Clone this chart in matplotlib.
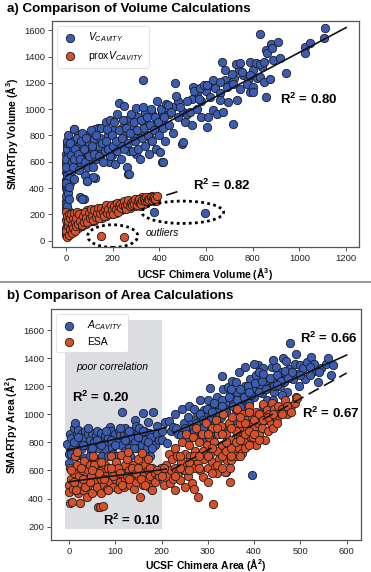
import matplotlib
matplotlib.use('Agg')
import matplotlib.pyplot as plt
from matplotlib.patches import Ellipse, Rectangle
from matplotlib.lines import Line2D

plt.rcParams['font.family'] = ['Liberation Sans', 'DejaVu Sans']
plt.rcParams['mathtext.fontset'] = 'custom'
plt.rcParams['mathtext.rm'] = 'Liberation Sans'
plt.rcParams['mathtext.it'] = 'Liberation Sans:italic'
plt.rcParams['mathtext.bf'] = 'Liberation Sans:bold'

BLUE = '#3a5cb2'
ORANGE = '#d8502a'
EDGE = '#1c1c1c'

# ---------- a) volume data (Chimera, SMARTpy) ----------
vc_pts = [
    (0, 300), (3, 330), (6, 360), (1, 400), (8, 430), (2, 460), (10, 490), (0, 520), (5, 550),
    (12, 580), (3, 610), (9, 640), (0, 660), (14, 690), (6, 720), (2, 250), (8, 230), (15, 560),
    (4, 470), (10, 620), (18, 700), (5, 380), (20, 520), (0, 590), (7, 680), (16, 440), (3, 510),
    (0, 340), (2, 420), (4, 500), (6, 570), (8, 600), (10, 650), (12, 540), (14, 480), (0, 440),
    (0, 560), (3, 700), (6, 740), (1, 620), (9, 360), (11, 410), (0, 280), (5, 260), (13, 320),
    (25, 760), (30, 700), (35, 850), (40, 640), (45, 600), (50, 800), (55, 720), (60, 560),
    (65, 680), (70, 760), (75, 620), (80, 500), (85, 700), (90, 800), (95, 650), (100, 740),
    (105, 590), (110, 830), (115, 690), (120, 770), (125, 480), (130, 620), (135, 860), (140, 720),
    (145, 780), (150, 660), (60, 330), (75, 320), (90, 450), (35, 470), (34, 846), (52, 800),
    (124, 846), (117, 482), (67, 318), (89, 457), (196, 648), (267, 508),
    (5, 760), (10, 800), (15, 740), (20, 650), (25, 600), (30, 560), (35, 620), (40, 700),
    (45, 780), (50, 660), (55, 540), (60, 620), (65, 760), (70, 820), (75, 700), (80, 600),
    (85, 780), (95, 560), (100, 640), (105, 840), (110, 720), (115, 560), (120, 660), (130, 800),
    (140, 640), (150, 860), (155, 740), (165, 680), (170, 900), (180, 800), (185, 600), (190, 920),
    (200, 840), (210, 680), (220, 960), (230, 740), (240, 860), (250, 800), (260, 920), (270, 680),
    (280, 880), (290, 780), (300, 660), (310, 940), (320, 820), (330, 900), (340, 980), (350, 880),
    (360, 780), (370, 960), (380, 860), (390, 920), (410, 980), (420, 880), (440, 960), (460, 1020),
    (480, 1060), (500, 980), (520, 960), (540, 1080), (560, 1120), (580, 1060), (600, 1140),
    (620, 1180), (640, 1160), (660, 1120), (680, 1220), (700, 1180), (720, 1240), (740, 1300),
    (760, 1260), (780, 1220), (800, 1300), (820, 1240), (840, 1320),
    (160, 600), (170, 760), (175, 850), (180, 700), (190, 640), (195, 800), (200, 720), (205, 900),
    (210, 580), (215, 760), (220, 680), (225, 840), (227, 1046), (235, 620), (240, 780), (245, 920),
    (249, 1021), (250, 700), (255, 860), (260, 560), (265, 740), (270, 510), (275, 820), (280, 960),
    (285, 680), (290, 900), (295, 760), (300, 1010), (305, 840), (310, 700), (315, 620), (320, 920),
    (325, 780), (329, 1219), (331, 1013), (335, 860), (340, 720), (345, 940), (350, 800), (355, 660),
    (360, 880), (365, 1000), (370, 760), (375, 840), (380, 940), (385, 700), (390, 1060), (395, 900),
    (400, 800), (403, 673), (405, 1000), (410, 597), (415, 860), (417, 597), (420, 940), (425, 760),
    (430, 1040), (437, 1029), (440, 880), (450, 980), (460, 820), (466, 1199), (470, 1100),
    (480, 940), (490, 1020), (496, 737), (503, 749), (510, 900), (520, 1060), (530, 980),
    (540, 880), (545, 1168), (550, 1140), (560, 1000), (570, 1080), (574, 1161), (580, 940),
    (590, 1180), (603, 1181), (603, 863), (610, 939), (617, 1092), (631, 1219), (631, 990),
    (646, 965), (660, 1206), (660, 1067), (669, 1361), (674, 977), (681, 1295), (689, 1168),
    (696, 1054), (710, 1270), (714, 884), (717, 1194), (729, 1341), (731, 1067), (746, 1351),
    (746, 1156), (753, 1282), (774, 1194), (786, 1358), (789, 1257), (789, 1130), (803, 1168),
    (803, 1130), (814, 1351), (831, 1341), (831, 1244), (846, 1358), (846, 1206), (857, 1453),
    (857, 1092), (860, 1423), (874, 1232), (877, 1493), (882, 1461), (887, 1377), (910, 1511),
    (917, 1392), (943, 1275), (831, 1570), (1024, 1473), (1046, 1503), (1024, 1423),
    (1110, 1620), (1106, 1537), (377, 221), (596, 213),
]
vc_chimera = [p[0] for p in vc_pts]
vc_smartpy = [p[1] for p in vc_pts]

prox_pts = [
    (0, 40), (2, 60), (5, 80), (0, 100), (3, 120), (6, 140), (1, 160), (4, 180), (8, 200),
    (0, 215), (10, 50), (12, 90), (15, 130), (8, 170), (18, 110), (20, 70), (22, 150), (25, 190),
    (28, 100), (30, 130), (35, 160), (38, 90), (40, 200), (45, 120), (50, 150), (55, 180),
    (60, 110), (65, 210), (70, 140), (75, 170), (80, 200), (85, 130), (90, 230), (95, 160),
    (100, 190), (105, 150), (110, 220), (115, 180), (120, 150), (125, 210), (130, 240), (135, 180),
    (140, 200), (145, 230), (150, 190), (155, 170), (160, 250), (165, 210), (170, 190), (175, 240),
    (180, 210), (185, 260), (190, 220), (195, 200), (200, 250), (205, 230), (210, 280), (215, 210),
    (220, 250), (225, 290), (230, 260), (235, 230), (240, 290), (245, 260), (250, 240), (255, 280),
    (260, 300), (265, 260), (270, 290), (275, 250), (280, 300), (285, 275), (290, 310), (295, 265),
    (300, 290), (305, 320), (310, 285), (315, 265), (320, 305), (325, 330), (330, 295), (335, 280),
    (340, 315), (345, 325), (350, 300), (355, 335), (360, 305), (365, 325), (370, 340), (375, 315),
    (380, 335), (385, 305), (15, 60), (30, 80), (50, 95), (70, 115), (110, 160), (200, 215),
    (0, 70), (3, 190), (5, 30), (7, 110), (9, 150), (12, 200), (14, 40), (16, 170), (19, 90),
    (21, 200), (24, 120), (26, 60), (29, 170), (32, 100), (34, 210), (37, 140), (39, 70),
    (42, 170), (44, 110), (47, 220), (52, 130), (57, 200), (62, 150), (67, 120), (72, 190),
    (77, 140), (82, 220), (87, 170), (92, 140), (97, 210), (102, 170), (107, 240), (112, 190),
    (117, 160), (122, 230), (127, 180), (132, 210), (137, 250), (142, 170), (147, 210), (152, 250),
    (157, 220), (162, 190), (167, 240), (172, 270), (177, 210), (182, 240), (187, 200), (192, 270),
    (197, 230), (202, 200), (207, 260), (212, 240), (217, 290), (222, 220), (227, 260), (232, 280),
    (237, 250), (242, 270), (247, 300), (252, 260), (257, 240), (262, 280), (267, 310), (272, 260),
    (277, 290), (282, 270), (287, 300), (292, 280), (297, 320), (302, 270), (307, 300), (312, 320),
    (317, 290), (322, 280), (327, 310), (332, 320), (337, 300), (342, 330), (347, 305), (352, 320),
    (357, 310), (362, 330), (367, 310), (372, 325), (377, 330), (382, 320), (388, 340),
    (150, 38), (249, 30),
]
prox_chimera = [p[0] for p in prox_pts]
prox_smartpy = [p[1] for p in prox_pts]

vc_fit = ([0, 1200], [490, 1620])
prox_fit = ([0, 500], [110, 385])

# ---------- b) area data (Chimera, SMARTpy) ----------
ac_pts = [
    (-5, 790), (0, 720), (0, 650), (2, 860), (5, 830), (8, 760), (10, 900), (12, 940), (15, 700),
    (18, 860), (20, 888), (22, 800), (25, 750), (28, 870), (30, 830), (32, 690), (35, 880),
    (38, 780), (40, 860), (45, 820), (48, 740), (50, 870), (52, 690), (55, 800), (58, 850),
    (60, 880), (62, 760), (67, 580), (68, 820), (70, 870), (72, 700), (75, 790), (78, 850),
    (80, 750), (85, 830), (89, 912), (90, 880), (92, 760), (95, 720), (98, 820), (100, 860),
    (102, 700), (105, 800), (108, 880), (110, 850), (112, 780), (114, 1018), (118, 860),
    (120, 740), (122, 900), (125, 820), (128, 870), (130, 760), (132, 700), (135, 840),
    (138, 880), (143, 960), (142, 800), (145, 920), (148, 860), (150, 760), (152, 900),
    (155, 840), (158, 780), (160, 1010), (162, 880), (165, 820), (168, 760), (171, 947),
    (172, 870), (175, 700), (178, 840), (182, 1018), (185, 780), (190, 860), (195, 820),
    (200, 880), (207, 947),
    (10, 800), (20, 840), (30, 780), (40, 900), (50, 760), (60, 820), (70, 780), (80, 880),
    (90, 820), (100, 780), (110, 900), (120, 820), (130, 880), (140, 760), (150, 840), (160, 880),
    (170, 800), (180, 760), (190, 920), (200, 820), (5, 720), (45, 700), (85, 700), (165, 700),
    (211, 795), (215, 950), (220, 880), (225, 912), (228, 1000), (232, 900), (236, 860),
    (243, 853), (244, 1040), (248, 940), (252, 880), (256, 820), (260, 1060), (264, 960),
    (268, 900), (272, 840), (276, 1010), (280, 950), (284, 1100), (288, 880), (292, 1030),
    (296, 980), (300, 920), (304, 1190), (308, 1060), (312, 1000), (316, 940), (320, 1120),
    (324, 1050), (326, 1054), (328, 980), (332, 1180), (336, 1080), (340, 1020), (344, 1197),
    (348, 1140), (352, 1240), (356, 1090), (360, 1030), (364, 1160), (368, 1300), (372, 1110),
    (376, 1050), (380, 1200), (384, 1140), (388, 1080), (392, 1250), (396, 1180), (400, 1120),
    (404, 1280), (409, 1351), (412, 1210), (416, 1150), (420, 1330), (424, 1240), (428, 1100),
    (432, 1190), (438, 1339), (440, 1230), (444, 1160), (448, 1340), (452, 1270), (456, 1200),
    (460, 1300), (463, 1398), (464, 1230), (468, 1380), (472, 1160), (476, 1320), (477, 1505),
    (484, 1250), (488, 1360), (492, 1290), (496, 1200), (499, 1351), (505, 1330), (510, 1250),
    (515, 1370), (524, 1410), (525, 1300), (530, 1360), (538, 1232), (545, 1330), (555, 1360),
    (560, 1398), (567, 1280), (571, 1351), (395, 565), (340, 590), (330, 900), (310, 860),
    (290, 820), (360, 950), (380, 1000), (420, 1060), (440, 1100), (460, 1140), (380, 1340),
    (400, 1360), (360, 1230), (330, 1270), (300, 1100), (270, 1040), (440, 1390), (490, 1430),
    (520, 1340), (470, 1260), (410, 1300),
    (250, 900), (258, 980), (266, 860), (274, 940), (282, 1000), (290, 960), (298, 1040),
    (306, 980), (314, 1080), (322, 1020), (330, 1100), (338, 1040), (346, 1120), (354, 1060),
    (362, 1100), (370, 1180), (378, 1120), (386, 1200), (394, 1140), (402, 1220), (410, 1160),
    (418, 1240), (426, 1180), (434, 1260), (442, 1200), (450, 1280), (458, 1240), (466, 1310),
    (474, 1260), (482, 1300), (500, 1280), (520, 1280), (540, 1300), (310, 1020), (330, 1060),
    (350, 1180), (370, 1050), (390, 1160), (420, 1290), (450, 1210), (270, 880), (290, 900),
]
ac_chimera = [p[0] for p in ac_pts]
ac_smartpy = [p[1] for p in ac_pts]

esa_pts = [
    (0, 500), (0, 450), (2, 371), (3, 620), (5, 540), (6, 378), (8, 470), (10, 580), (12, 700),
    (15, 520), (17, 734), (18, 640), (20, 440), (22, 560), (24, 366), (25, 500), (28, 600),
    (30, 460), (32, 670), (35, 540), (38, 410), (40, 600), (42, 500), (45, 640), (48, 560),
    (50, 440), (52, 700), (55, 520), (58, 600), (60, 480), (63, 342), (65, 660), (67, 342),
    (68, 540), (70, 440), (72, 600), (74, 347), (75, 500), (78, 640), (80, 560), (82, 470),
    (85, 620), (88, 520), (90, 700), (92, 580), (95, 480), (98, 620), (100, 540), (102, 660),
    (105, 470), (108, 600), (110, 520), (112, 710), (115, 580), (118, 480), (120, 640),
    (122, 550), (125, 680), (128, 734), (130, 600), (132, 500), (135, 560), (138, 640),
    (140, 470), (142, 600), (145, 520), (148, 680), (150, 560), (153, 413), (155, 620),
    (157, 722), (160, 500), (162, 580), (165, 640), (168, 540), (170, 600), (172, 480),
    (175, 560), (179, 461), (180, 620), (185, 580), (190, 540), (195, 600), (198, 620),
    (5, 600), (15, 460), (25, 620), (35, 480), (45, 520), (55, 640), (65, 580), (75, 540),
    (85, 460), (95, 560), (105, 620), (115, 500), (125, 560), (135, 620), (145, 580), (155, 540),
    (165, 500), (175, 620), (185, 520), (195, 560), (10, 520), (30, 540), (50, 600), (70, 660),
    (90, 620), (110, 580), (130, 540), (150, 620), (170, 680), (190, 600),
    (205, 500), (210, 640), (212, 560), (215, 720), (218, 509), (220, 600), (222, 680),
    (225, 540), (228, 760), (230, 620), (233, 700), (236, 580), (240, 532), (242, 660),
    (245, 800), (248, 600), (250, 720), (252, 860), (255, 640), (258, 560), (260, 780),
    (262, 700), (265, 509), (268, 840), (270, 620), (272, 740), (275, 900), (278, 660),
    (279, 409), (280, 800), (283, 604), (285, 720), (288, 860), (290, 556), (292, 680),
    (295, 940), (298, 780), (300, 620), (302, 840), (305, 720), (308, 900), (310, 660),
    (312, 362), (313, 800), (315, 627), (318, 960), (319, 580), (320, 740), (322, 860),
    (325, 680), (328, 920), (330, 780), (332, 1000), (335, 700), (337, 591), (340, 860),
    (341, 675), (344, 780), (346, 940), (348, 620), (350, 820), (351, 675), (353, 980),
    (355, 769), (358, 900), (360, 700), (362, 1040), (365, 840), (367, 760), (369, 841),
    (370, 940), (372, 880), (373, 722), (375, 1000), (378, 800), (380, 758), (383, 960),
    (385, 900), (388, 1060), (391, 912), (393, 840), (395, 980), (398, 841), (400, 900),
    (403, 1020), (405, 780), (408, 940), (410, 860), (413, 960), (415, 1000), (418, 900),
    (420, 1070), (423, 820), (425, 960), (427, 1030), (430, 880), (433, 1000), (436, 940),
    (438, 1078), (440, 900), (443, 1040), (446, 980), (449, 972), (452, 1060), (456, 1006),
    (460, 1040), (466, 1102), (472, 1000), (480, 1060), (488, 1078), (491, 1125), (492, 1114),
    (250, 480), (270, 470), (300, 520), (230, 460), (200, 560), (205, 620), (348, 520),
    (230, 560), (240, 700), (250, 600), (260, 660), (270, 700), (280, 620), (290, 740),
    (300, 700), (310, 760), (320, 640), (330, 700), (340, 740), (350, 760), (360, 800),
    (370, 820), (380, 860), (390, 880), (400, 960), (410, 1000), (420, 960), (430, 980),
    (440, 1000), (300, 860), (320, 900), (340, 800), (360, 880), (380, 940), (400, 860),
    (280, 700), (260, 600), (240, 620), (310, 580), (330, 620), (350, 700), (370, 700),
    (390, 780), (410, 820), (330, 860), (350, 900), (370, 980), (390, 1020), (450, 940),
    (460, 1000), (470, 1060), (480, 1020),
]
esa_chimera = [p[0] for p in esa_pts]
esa_smartpy = [p[1] for p in esa_pts]

ac_fit_low = ([-5, 210], [745, 905])
esa_fit_low = ([0, 210], [520, 610])
ac_fit_high = ([225, 600], [867, 1422])
esa_fit_high = ([220, 600], [600, 1294])

# ---------- figure ----------
fig = plt.figure(figsize=(3.71, 5.72), dpi=100)
W, H = 371, 572


def box(l, t, r, b):
    return [l / W, 1 - b / H, (r - l) / W, (b - t) / H]


ax1 = fig.add_axes(box(52, 21, 359, 247))
ax2 = fig.add_axes(box(51, 309, 361, 540))

sc_kw = dict(s=36, edgecolors=EDGE, linewidths=0.6, zorder=3)

# panel a
ax1.scatter(vc_chimera, vc_smartpy, c=BLUE, label=r'$V_{CAVITY}$', **sc_kw)
ax1.scatter(prox_chimera, prox_smartpy, c=ORANGE, label=r'prox$V_{CAVITY}$', **sc_kw)
ax1.plot(*vc_fit, color='#111111', lw=1.2, zorder=4)
ax1.plot(*prox_fit, color='#111111', lw=1.2, ls=(0, (7, 3.5)), zorder=2)
ax1.add_patch(Ellipse((500, 216), 350, 170, fill=False, ls=(0, (1, 1.2)), lw=2, color='k', zorder=5))
ax1.add_patch(Ellipse((200, 35), 215, 172, fill=False, ls=(0, (1, 1.2)), lw=2, color='k', zorder=5))
ax1.text(340, 56, 'outliers', style='italic', fontsize=7.5, va='center')
ax1.text(917, 1075, r'R$^{\bf 2}$ = 0.80', fontsize=9.5, fontweight='bold', va='center')
ax1.text(545, 420, r'R$^{\bf 2}$ = 0.82', fontsize=9.5, fontweight='bold', va='center')
ax1.set_xlim(-60, 1255)
ax1.set_ylim(-48, 1670)
ax1.set_xticks(range(0, 1201, 200))
ax1.set_yticks(range(0, 1601, 200))
ax1.set_xlabel(r'UCSF Chimera Volume (Å$^{\bf 3}$)', fontsize=7.5, fontweight='bold', labelpad=2)
ax1.set_ylabel(r'SMARTpy Volume (Å$^{\bf 3}$)', fontsize=7.5, fontweight='bold', labelpad=3)

# panel b
ax2.add_patch(Rectangle((-9, 184), 209, 1487, color='#dcdde0', zorder=0, lw=0))
ax2.scatter(ac_chimera, ac_smartpy, c=BLUE, label=r'$A_{CAVITY}$', **sc_kw)
ax2.scatter(esa_chimera, esa_smartpy, c=ORANGE, label='ESA', **sc_kw)
ax2.plot(*ac_fit_low, color='#111111', lw=1.2, zorder=4)
ax2.plot(*esa_fit_low, color='#111111', lw=1.2, zorder=4)
ax2.plot(*ac_fit_high, color='#111111', lw=1.2, zorder=4)
ax2.plot(*esa_fit_high, color='#111111', lw=1.2, ls=(0, (7, 3.5)), zorder=4)
ax2.text(94, 1337, 'poor correlation', style='italic', fontsize=7.5, ha='center', va='center')
ax2.text(6, 1118, r'R$^{\bf 2}$ = 0.20', fontsize=9.5, fontweight='bold', va='center')
ax2.text(73, 247, r'R$^{\bf 2}$ = 0.10', fontsize=9.5, fontweight='bold', va='center')
ax2.text(499, 1543, r'R$^{\bf 2}$ = 0.66', fontsize=9.5, fontweight='bold', va='center')
ax2.text(504, 1010, r'R$^{\bf 2}$ = 0.67', fontsize=9.5, fontweight='bold', va='center')
ax2.set_xlim(-39, 631)
ax2.set_ylim(105, 1750)
ax2.set_xticks(range(0, 601, 100))
ax2.set_yticks(range(200, 1601, 200))
ax2.set_xlabel(r'UCSF Chimera Area (Å$^{\bf 2}$)', fontsize=7.5, fontweight='bold', labelpad=1)
ax2.set_ylabel(r'SMARTpy Area (Å$^{\bf 2}$)', fontsize=7.5, fontweight='bold', labelpad=3)

for ax in (ax1, ax2):
    for sp in ax.spines.values():
        sp.set_color('#555555')
        sp.set_linewidth(0.9)
    ax.tick_params(labelsize=6.8, length=3, width=0.7, color='#555555', pad=2,
                   labelcolor='#222222')
    leg = ax.legend(loc='upper left', fontsize=7.5, frameon=True, framealpha=1,
                    edgecolor='#dddddd', fancybox=True, handletextpad=1.0,
                    borderpad=0.45, labelspacing=0.45, handlelength=1.6,
                    bbox_to_anchor=(0.0, 1.0), borderaxespad=0.45)
    leg.get_frame().set_linewidth(0.6)
    leg.set_zorder(10)

fig.text(7 / W, 1 - 9 / H, 'a) Comparison of Volume Calculations', fontsize=9.6,
         fontweight='bold', va='center', ha='left')
fig.text(7 / W, 1 - 296 / H, 'b) Comparison of Area Calculations', fontsize=9.6,
         fontweight='bold', va='center', ha='left')
fig.add_artist(Line2D([0, 1], [1 - 282 / H, 1 - 282 / H], color='#888888', lw=1.2))

fig.savefig('out.png', dpi=100)
